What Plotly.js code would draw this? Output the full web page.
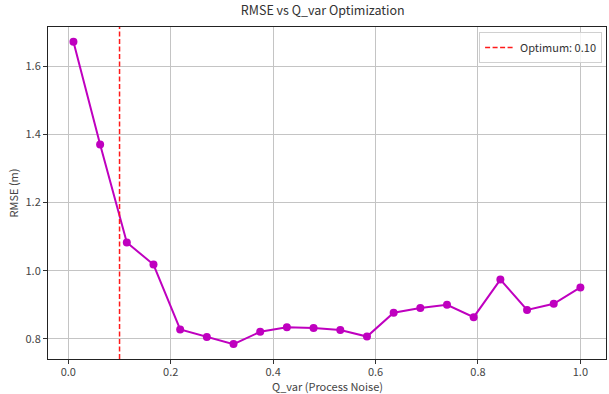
<!DOCTYPE html>
<html><head><meta charset="utf-8">
<script src="https://cdn.plot.ly/plotly-3.0.1.min.js"></script>
<style>html,body{margin:0;padding:0;background:#fff;}#chart{width:609px;height:394px;}</style>
</head><body><div id="chart"></div>
<script>
const qVar = [0.01, 0.0621, 0.1142, 0.1663, 0.2184, 0.2705, 0.3226, 0.3747, 0.4268, 0.4789,
              0.5311, 0.5832, 0.6353, 0.6874, 0.7395, 0.7916, 0.8437, 0.8958, 0.9479, 1.0];
const rmse = [1.671, 1.370, 1.083, 1.018, 0.828, 0.806, 0.785, 0.821, 0.834, 0.832,
              0.826, 0.807, 0.877, 0.891, 0.900, 0.864, 0.974, 0.885, 0.903, 0.951];
const optimum = 0.10;
const optLabel = 'Optimum: 0.10';
const xTitle = 'Q_var (Process Noise)';
const xTicks = [0.0, 0.2, 0.4, 0.6, 0.8, 1.0];
const yTicks = [0.8, 1.0, 1.2, 1.4, 1.6];

const font = 'Noto Sans CJK KR, Noto Sans, sans-serif';
const data = [{
  x: qVar, y: rmse, type: 'scatter', mode: 'lines+markers',
  line: {color: '#bf00bf', width: 2},
  marker: {color: '#bf00bf', size: 8},
  showlegend: false
}];
const axisCommon = {
  showline: true, mirror: true, linecolor: '#222', linewidth: 1,
  ticks: 'outside', ticklen: 4, tickcolor: '#333',
  showgrid: true, gridcolor: '#c4c4c4', gridwidth: 1, zeroline: false,
  tickfont: {family: font, size: 11, color: '#444'}
};
const layout = {
  width: 609, height: 394,
  margin: {l: 48, r: 3, t: 27, b: 35},
  paper_bgcolor: '#fff', plot_bgcolor: '#fff',
  font: {family: font, color: '#333'},
  title: {text: 'RMSE vs Q_var Optimization', x: 0.53, xanchor: 'center', y: 0.985, yanchor: 'top',
          font: {family: font, size: 12.5, color: '#333'}},
  xaxis: Object.assign({}, axisCommon, {
    range: [-0.0397, 1.050], tickvals: xTicks, ticktext: xTicks.map(v => v.toFixed(1)),
    ticklabelstandoff: -1
  }),
  yaxis: Object.assign({}, axisCommon, {
    range: [0.7413, 1.7144], tickvals: yTicks, ticktext: yTicks.map(v => v.toFixed(1)),
    title: {text: 'RMSE (m)', standoff: 4, font: {family: font, size: 11, color: '#444'}}
  }),
  annotations: [{
    text: xTitle, xref: 'paper', yref: 'paper', x: 0.5, y: -0.0815, xanchor: 'center', yanchor: 'middle',
    showarrow: false, font: {family: font, size: 11, color: '#444'}
  }],
  shapes: [{
    type: 'line', xref: 'x', yref: 'paper', x0: optimum, x1: optimum, y0: 0, y1: 1,
    line: {color: '#ff1a1a', width: 1.5, dash: '5px,2.5px'},
    showlegend: true, name: optLabel
  }],
  legend: {x: 0.993, xanchor: 'right', y: 0.985, yanchor: 'top', itemwidth: 30,
           bgcolor: 'rgba(255,255,255,0.8)', bordercolor: '#d0d0d0', borderwidth: 1,
           font: {family: font, size: 11, color: '#333'}}
};
Plotly.newPlot('chart', data, layout, {displayModeBar: false, staticPlot: true});
</script></body></html>
